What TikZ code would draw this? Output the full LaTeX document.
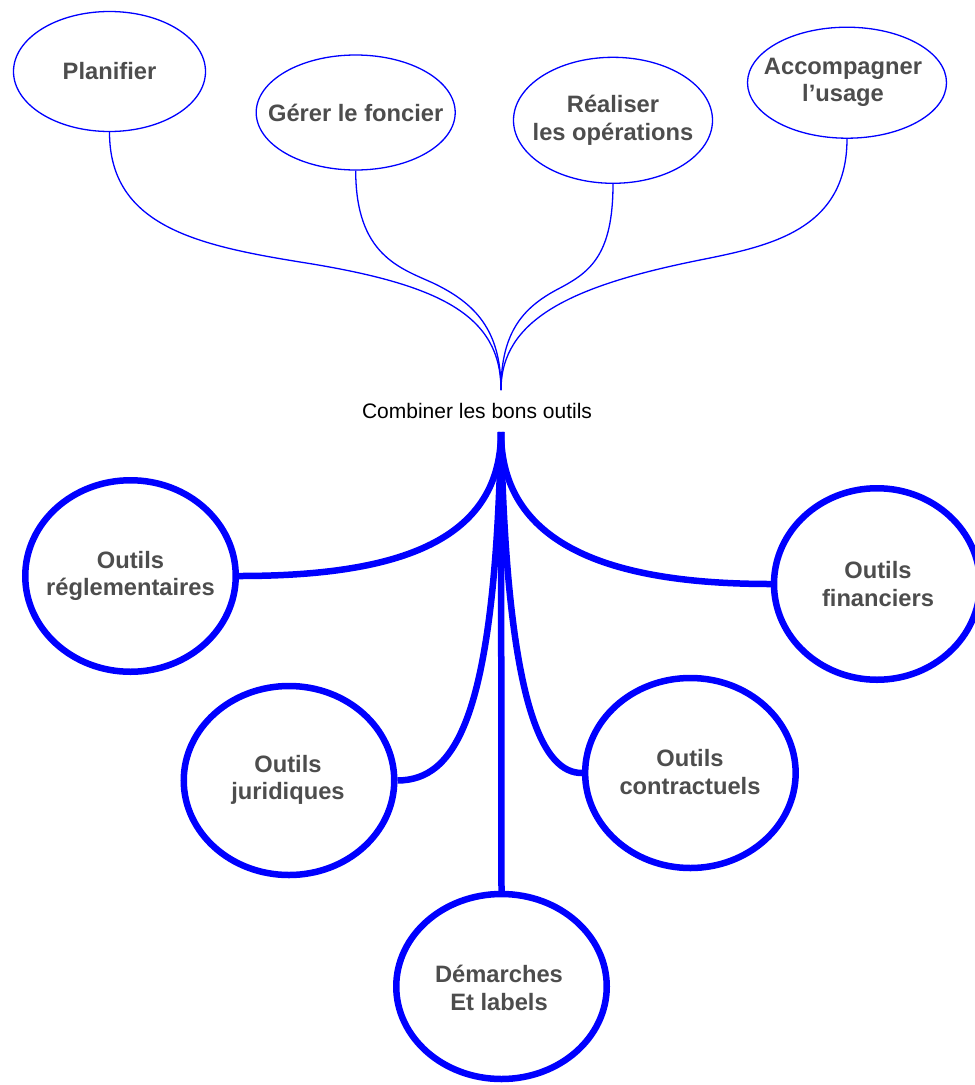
\documentclass[tikz,border=0pt]{standalone}
\usepackage{fontspec}
\setmainfont{Liberation Sans}
\usetikzlibrary{shapes.geometric}
\definecolor{mapblue}{HTML}{0000FF}
\definecolor{labelgray}{HTML}{4D4D4D}
\tikzset{
  topic/.style={ellipse, draw=mapblue, line width=1.3bp, inner sep=0pt},
  tool/.style={ellipse, draw=mapblue, line width=6.5bp, inner sep=0pt,
               minimum width=210.5bp, minimum height=191.5bp},
  caption/.style={text=labelgray, font=\fontsize{23.7bp}{27.3bp}\selectfont\bfseries,
                  align=center, inner sep=0pt},
  thinlink/.style={draw=mapblue, line width=1.3bp},
  thicklink/.style={draw=mapblue, line width=6.5bp},
}
\begin{document}
\begin{tikzpicture}[x=1bp, y=-1bp]
\fill[white] (0,0) rectangle (975,1085);
\useasboundingbox (0,0) rectangle (975,1085);
\clip (0,0) rectangle (975,1085);

% upper row: the four actions
\node[topic, minimum width=192bp, minimum height=120bp] (plan) at (109.5,71.5) {};
\node[caption] (planT) at (plan) {Planifier};
\node[topic, minimum width=199bp, minimum height=115bp] (ger) at (355.7,112.5) {};
\node[caption] (gerT) at (ger) {Gérer le foncier};
\node[topic, minimum width=199bp, minimum height=126bp] (real) at (613,120.3) {};
\node[caption] (realT) at (real) {Réaliser\\les opérations};
\node[topic, minimum width=199bp, minimum height=111bp] (acc) at (847,82.7) {};
\node[caption] (accT) at (843,82.7) {Accompagner\\l’usage};

% central statement and junction points
\node[font=\fontsize{21bp}{24bp}\selectfont, inner sep=0pt] (combine) at (477,410.5) {Combiner les bons outils};
\coordinate (join) at (501,390);
\coordinate (hub) at (501,432);

% lower row: the tool families
\node[tool] (regl) at (130.5,576) {};
\node[caption] (reglT) at (regl) {Outils\\réglementaires};
\node[tool, minimum width=206bp] (fin) at (877,584) {};
\node[caption] (finT) at (878,584) {Outils\\financiers};
\node[tool, minimum height=189bp] (jur) at (289,780.5) {};
\node[caption] (jurT) at (288,780) {Outils\\juridiques};
\node[tool, minimum height=190bp] (con) at (690.4,773) {};
\node[caption] (conT) at (690,772) {Outils\\contractuels};
\node[tool, minimum height=185bp] (dem) at (501.5,986.5) {};
\node[caption] (demT) at (499,988) {Démarches\\Et labels};

% thin links from the actions
\draw[thinlink] (plan.south) .. controls (109.5,225) and (195,245) .. (300,262)
                 .. controls (440,284) and (501,315) .. (join);
\draw[thinlink] (ger.south) .. controls (355.7,255) and (400,268) .. (433,283)
                 .. controls (475,303) and (501,330) .. (join);
\draw[thinlink] (real.south) .. controls (613,255) and (590,272) .. (560,288)
                 .. controls (525,306) and (501,330) .. (join);
\draw[thinlink] (acc.south) .. controls (847,230) and (770,246) .. (700,260)
                 .. controls (570,286) and (501,320) .. (join);

% thick links to the tools
\draw[thicklink] (hub) .. controls (501,545) and (390,576) .. (regl.east);
\draw[thicklink] (hub) .. controls (501,550) and (620,584) .. (fin.west);
\draw[thicklink] (hub) .. controls (495,720) and (455,780) .. (jur.east);
\draw[thicklink] (hub) .. controls (507,715) and (545,773) .. (con.west);
\draw[thicklink] (hub) -- (dem.north);
\end{tikzpicture}
\end{document}
